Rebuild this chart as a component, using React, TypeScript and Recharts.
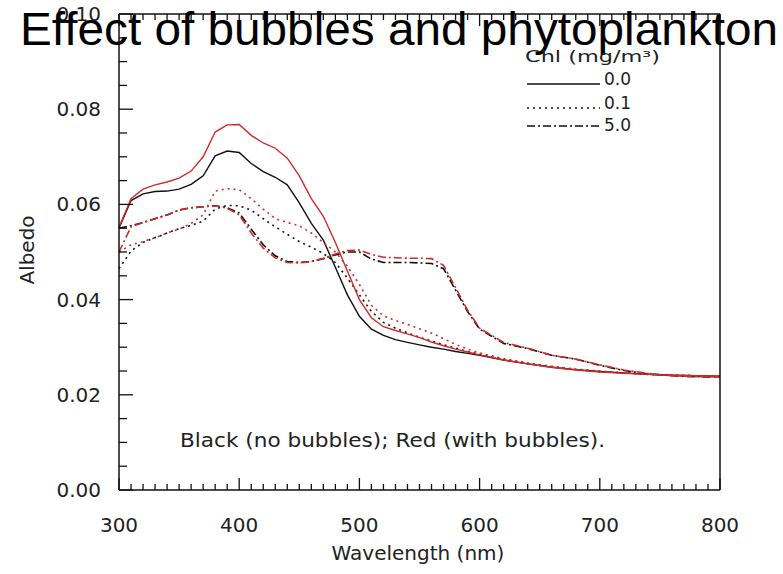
import { LineChart, Line, XAxis, YAxis } from 'recharts';

// wavelength grid (nm)
const wavelengths = [
  300, 310, 320, 330, 340, 350, 360, 370, 380, 390, 400, 410, 420, 430, 440, 450, 460, 470, 480, 490,
  500, 510, 520, 530, 540, 550, 560, 570, 580, 590, 600, 620, 640, 660, 680, 700, 720, 740, 760, 780, 800,
];

// Chl 0.0, no bubbles (black solid)
const black00 = [
  0.055, 0.0608, 0.0622, 0.0627, 0.0628, 0.0632, 0.0642, 0.066, 0.0702, 0.0712, 0.0709, 0.0686, 0.0669, 0.0657, 0.0641, 0.0603, 0.056, 0.0525, 0.0468, 0.041,
  0.0365, 0.0338, 0.0325, 0.0316, 0.031, 0.0305, 0.03, 0.0296, 0.0291, 0.0287, 0.0283, 0.0273, 0.0265, 0.0258, 0.0253, 0.0249, 0.0246, 0.0243, 0.0241, 0.024, 0.0239,
];
// Chl 0.0, with bubbles (red solid)
const red00 = [
  0.0552, 0.0612, 0.0632, 0.0641, 0.0647, 0.0655, 0.067, 0.07, 0.0752, 0.0767, 0.0768, 0.0745, 0.0729, 0.0718, 0.0697, 0.066, 0.0612, 0.0575, 0.052, 0.046,
  0.04, 0.0362, 0.0343, 0.0335, 0.0328, 0.032, 0.0311, 0.0303, 0.0296, 0.029, 0.0284, 0.0273, 0.0265, 0.0258, 0.0252, 0.0248, 0.0245, 0.0243, 0.0241, 0.024, 0.0239,
];
// Chl 0.1, no bubbles (black dotted)
const black01 = [
  0.0465, 0.0502, 0.052, 0.053, 0.054, 0.0549, 0.0556, 0.0565, 0.059, 0.0598, 0.0597, 0.0588, 0.057, 0.0553, 0.0537, 0.0522, 0.051, 0.0497, 0.0478, 0.0445,
  0.041, 0.0375, 0.0352, 0.034, 0.033, 0.0321, 0.0313, 0.0305, 0.0298, 0.0291, 0.0285, 0.0274, 0.0266, 0.0259, 0.0253, 0.0249, 0.0246, 0.0243, 0.0241, 0.024, 0.0239,
];
// Chl 0.1, with bubbles (red dotted)
const red01 = [
  0.05, 0.0515, 0.0522, 0.053, 0.054, 0.0548, 0.056, 0.0578, 0.0628, 0.0633, 0.0631, 0.0612, 0.059, 0.057, 0.0562, 0.0555, 0.054, 0.052, 0.05, 0.047,
  0.0432, 0.0388, 0.0366, 0.0356, 0.0348, 0.0339, 0.033, 0.0318, 0.0306, 0.0296, 0.0288, 0.0276, 0.0267, 0.026, 0.0254, 0.025, 0.0246, 0.0243, 0.0241, 0.024, 0.0239,
];
// Chl 5.0, no bubbles (black dash-dot)
const black50 = [
  0.055, 0.0555, 0.0562, 0.057, 0.0578, 0.0588, 0.0593, 0.0595, 0.0597, 0.0593, 0.0582, 0.0548, 0.0515, 0.0492, 0.048, 0.0478, 0.048, 0.0486, 0.0494, 0.05,
  0.05, 0.0485, 0.0478, 0.0478, 0.0478, 0.0477, 0.0476, 0.0465, 0.042, 0.0375, 0.0338, 0.0308, 0.0297, 0.0283, 0.0275, 0.0262, 0.0251, 0.0244, 0.024, 0.0238, 0.0237,
];
// Chl 5.0, with bubbles (red dash-dot)
const red50 = [
  0.05, 0.0553, 0.0562, 0.057, 0.0578, 0.0588, 0.0593, 0.0595, 0.0597, 0.0592, 0.0578, 0.054, 0.0508, 0.0488, 0.0478, 0.0477, 0.048, 0.0487, 0.0496, 0.0503,
  0.0504, 0.0495, 0.0489, 0.0488, 0.0487, 0.0487, 0.0486, 0.0472, 0.0425, 0.0378, 0.034, 0.031, 0.0298, 0.0283, 0.0275, 0.0263, 0.0252, 0.0245, 0.024, 0.0238, 0.0237,
];

const xLabels = [300, 400, 500, 600, 700, 800];
const yLabels = [0, 0.02, 0.04, 0.06, 0.08, 0.1];
const legendChl = ['0.0', '0.1', '5.0'];

const xTicks = Array.from({ length: 51 }, (_, i) => 300 + i * 10);
const yTicks = Array.from({ length: 21 }, (_, i) => +(i * 0.005).toFixed(3));

const data = wavelengths.map((wl, i) => ({
  wl,
  black00: black00[i],
  red00: red00[i],
  black01: black01[i],
  red01: red01[i],
  black50: black50[i],
  red50: red50[i],
}));

const RED = '#d22b2b';
const INK = '#111';
const LABEL = '#222';
const FONT = 'DejaVu Sans';
const DOT = '2 4';
const DASHDOT = '8 3 2 3';

const isMajorX = (v: number) => xLabels.includes(v);
const isMajorY = (v: number) => yLabels.some((l) => Math.abs(l - v) < 1e-6);

function BottomTick({ x, y, payload }: any) {
  const major = isMajorX(payload.value);
  return (
    <g>
      <line x1={x} x2={x} y1={y} y2={y - (major ? 12 : 6)} stroke={INK} strokeWidth={1.3} />
      {major && (
        <text x={x} y={y + 42} textAnchor="middle" fontFamily={FONT} fontSize={20} fill={LABEL}>
          {payload.value}
        </text>
      )}
    </g>
  );
}

function TopTick({ x, y, payload }: any) {
  const major = isMajorX(payload.value);
  return <line x1={x} x2={x} y1={y} y2={y + (major ? 12 : 6)} stroke={INK} strokeWidth={1.3} />;
}

function LeftTick({ x, y, payload }: any) {
  const major = isMajorY(payload.value);
  return (
    <g>
      <line x1={x} x2={x + (major ? 14 : 8)} y1={y} y2={y} stroke={INK} strokeWidth={1.3} />
      {major && (
        <text x={x - 18} y={y + 7} textAnchor="end" fontFamily={FONT} fontSize={20} fill={LABEL}>
          {payload.value.toFixed(2)}
        </text>
      )}
    </g>
  );
}

function RightTick({ x, y, payload }: any) {
  const major = isMajorY(payload.value);
  return <line x1={x} x2={x - (major ? 14 : 8)} y1={y} y2={y} stroke={INK} strokeWidth={1.3} />;
}

const axisLine = { stroke: INK, strokeWidth: 1.5 };

export default function App() {
  return (
    <div style={{ position: 'absolute', left: 0, top: 0, width: 783, height: 574, background: '#fff' }}>
      <LineChart width={783} height={574} data={data} margin={{ top: 4, right: 43, bottom: 44, left: 59 }}>
        <XAxis
          xAxisId="b"
          dataKey="wl"
          type="number"
          domain={[300, 800]}
          ticks={xTicks}
          interval={0}
          height={40}
          tickSize={0}
          tickMargin={0}
          tickLine={false}
          axisLine={axisLine}
          tick={BottomTick}
        />
        <XAxis
          xAxisId="t"
          orientation="top"
          dataKey="wl"
          type="number"
          domain={[300, 800]}
          ticks={xTicks}
          interval={0}
          height={10}
          tickSize={0}
          tickMargin={0}
          tickLine={false}
          axisLine={axisLine}
          tick={TopTick}
        />
        <YAxis
          yAxisId="l"
          type="number"
          domain={[0, 0.1]}
          ticks={yTicks}
          interval={0}
          width={60}
          tickSize={0}
          tickMargin={0}
          tickLine={false}
          axisLine={axisLine}
          tick={LeftTick}
        />
        <YAxis
          yAxisId="r"
          orientation="right"
          type="number"
          domain={[0, 0.1]}
          ticks={yTicks}
          interval={0}
          width={20}
          tickSize={0}
          tickMargin={0}
          tickLine={false}
          axisLine={axisLine}
          tick={RightTick}
        />
        <Line xAxisId="b" yAxisId="l" type="linear" dataKey="black00" stroke={INK} strokeWidth={1.4} dot={false} isAnimationActive={false} />
        <Line xAxisId="b" yAxisId="l" type="linear" dataKey="black01" stroke={INK} strokeWidth={1.6} strokeDasharray={DOT} dot={false} isAnimationActive={false} />
        <Line xAxisId="b" yAxisId="l" type="linear" dataKey="black50" stroke={INK} strokeWidth={1.6} strokeDasharray={DASHDOT} dot={false} isAnimationActive={false} />
        <Line xAxisId="b" yAxisId="l" type="linear" dataKey="red00" stroke={RED} strokeWidth={1.4} dot={false} isAnimationActive={false} />
        <Line xAxisId="b" yAxisId="l" type="linear" dataKey="red01" stroke={RED} strokeWidth={1.6} strokeDasharray={DOT} dot={false} isAnimationActive={false} />
        <Line xAxisId="b" yAxisId="l" type="linear" dataKey="red50" stroke={RED} strokeWidth={1.6} strokeDasharray={DASHDOT} dot={false} isAnimationActive={false} />
      </LineChart>
      <svg
        width={783}
        height={574}
        style={{ position: 'absolute', left: 0, top: 0, pointerEvents: 'none' }}
      >
        <text x={20} y={45} fontFamily="Liberation Sans, Arial, sans-serif" fontSize={46} fill="#000" textLength={758} lengthAdjust="spacingAndGlyphs">
          Effect of bubbles and phytoplankton
        </text>
        <text x={525} y={62} fontFamily={FONT} fontSize={16} fill={LABEL} textLength={135} lengthAdjust="spacingAndGlyphs">
          Chl (mg/m³)
        </text>
        {legendChl.map((c, i) => {
          const y = [84, 108, 126][i];
          const base = [85, 109, 131][i];
          const dash = [undefined, DOT, DASHDOT][i];
          return (
            <g key={c}>
              <line x1={527} x2={600} y1={y} y2={y} stroke={INK} strokeWidth={1.5} strokeDasharray={dash} />
              <text x={604} y={base} fontFamily={FONT} fontSize={17} fill={LABEL}>
                {c}
              </text>
            </g>
          );
        })}
        <text x={180} y={447} fontFamily={FONT} fontSize={19} fill={LABEL} textLength={425} lengthAdjust="spacingAndGlyphs">
          Black (no bubbles); Red (with bubbles).
        </text>
        <text x={418} y={560} textAnchor="middle" fontFamily={FONT} fontSize={20} fill={LABEL}>
          Wavelength (nm)
        </text>
        <text
          x={34}
          y={250}
          textAnchor="middle"
          transform="rotate(-90 34 250)"
          fontFamily={FONT}
          fontSize={20}
          fill={LABEL}
        >
          Albedo
        </text>
      </svg>
    </div>
  );
}
